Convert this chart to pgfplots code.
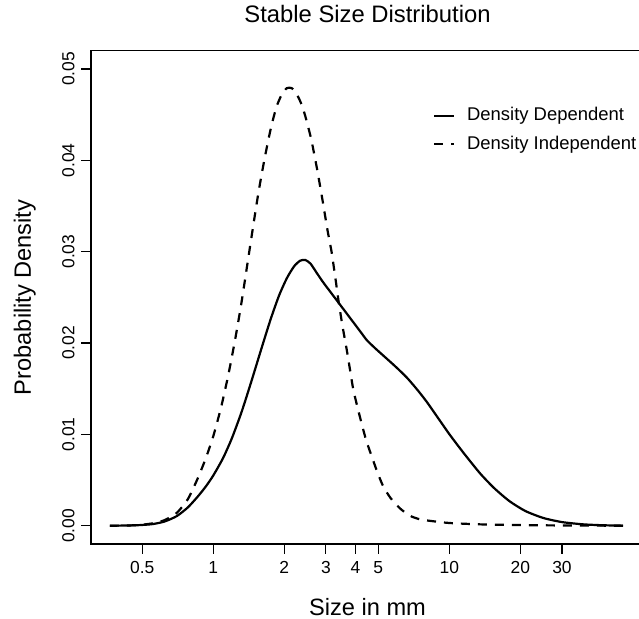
\documentclass[border=0pt]{standalone}
\usepackage{fontspec}
\setmainfont{Liberation Sans}
\usepackage{pgfplots}
\pgfplotsset{compat=1.18}

\pgfplotstableread{
x y
0.365 0.00000
0.42 0.00002
0.48 0.00006
0.55 0.00017
0.62 0.00045
0.70 0.00105
0.78 0.0020
0.86 0.0032
0.93 0.0043
1.00 0.0055
1.10 0.0074
1.20 0.0096
1.32 0.0125
1.45 0.0158
1.60 0.0194
1.75 0.0226
1.90 0.0252
2.05 0.0271
2.20 0.0284
2.33 0.0290
2.45 0.0291
2.58 0.0287
2.74 0.0277
2.90 0.02676
3.10 0.02576
3.33 0.02470
3.60 0.02354
3.90 0.02235
4.20 0.02125
4.47 0.02032
4.85 0.01943
5.25 0.01863
5.90 0.01745
6.59 0.01625
7.30 0.01492
8.02 0.01357
9.00 0.01172
10.07 0.00992
11.5 0.00796
13.5 0.00573
15.5 0.00411
18 0.00268
21 0.00161
25 0.00085
30 0.0004
37 0.00015
45 0.00005
54.5 0.00001
}\dd

\pgfplotstableread{
x y
0.365 0.00000
0.42 0.00002
0.48 0.00007
0.55 0.00025
0.62 0.0006
0.70 0.0014
0.78 0.0029
0.86 0.0052
0.93 0.0074
1.00 0.0098
1.08 0.0130
1.16 0.0166
1.24 0.0205
1.32 0.0246
1.44 0.0310
1.55 0.0363
1.65 0.0402
1.75 0.0434
1.85 0.0458
1.95 0.0472
2.05 0.0479
2.15 0.0479
2.25 0.0473
2.35 0.0463
2.45 0.0449
2.60 0.0423
2.75 0.0391
2.90 0.0357
3.05 0.0323
3.17 0.0300
3.30 0.0269
3.39 0.0247
3.52 0.0220
3.68 0.0192
3.80 0.0170
3.92 0.0149
4.08 0.0130
4.25 0.0112
4.45 0.0093
4.69 0.0076
4.95 0.0059
5.25 0.0043
5.65 0.0030
6.18 0.0019
6.80 0.0011
7.51 0.0007
8.5 0.0005
10 0.0003
13.5 0.00015
20 0.00007
30 0.00003
54.5 0.00000
}\di

\begin{document}
\begin{tikzpicture}
\begin{axis}[
  at={(91bp,75bp)}, anchor=south west,
  scale only axis, width=553bp, height=493.3bp,
  xmode=log, xmin=0.3034, xmax=66.8,
  ymin=-0.002, ymax=0.052,
  scaled y ticks=false,
  xtick={0.5,1,2,3,4,5,10,20,30},
  xticklabels={0.5,1,2,3,4,5,10,20,30},
  ytick={0,0.01,0.02,0.03,0.04,0.05},
  yticklabels={0.00,0.01,0.02,0.03,0.04,0.05},
  minor xtick={},
  xtick pos=bottom, ytick pos=left,
  tick align=outside, major tick length=10bp,
  axis line style={line width=1.2bp},
  every tick/.style={black, line width=1.2bp},
  tick label style={font=\fontsize{17.5}{20}\selectfont},
  /pgf/number format/assume math mode=true,
  yticklabel style={rotate=90, anchor=south},
  xticklabel style={anchor=north},
  xticklabel shift=4bp,
  yticklabel shift=3bp,
  title={Stable Size Distribution},
  title style={at={(axis description cs:0.5,1.046)}, anchor=base, font=\fontsize{23.9}{28}\selectfont, inner sep=0pt},
  xlabel={Size in mm},
  xlabel style={at={(axis description cs:0.5,-0.144)}, anchor=base, font=\fontsize{23.7}{28}\selectfont, inner sep=0pt},
  ylabel={Probability Density},
  ylabel style={at={(axis description cs:-0.1085,0.5)}, anchor=base, font=\fontsize{23.7}{28}\selectfont, inner sep=0pt},
  legend style={at={(rel axis cs:0.6184,0.8857)}, anchor=north west, draw=none, fill=none,
    inner sep=0pt, outer sep=0pt, row sep=11bp, column sep=12bp,
    font=\fontsize{18.5}{21}\selectfont,
    nodes={inner sep=0pt, text height=13.5bp, text depth=4bp}},
  legend cell align=left,
  legend image code/.code={\draw[#1] (0bp,0bp) -- (20bp,0bp);},
]
\addplot[black, line width=2.2bp, smooth, tension=0.4] table {\dd};
\addlegendentry{Density Dependent}
\addplot[black, line width=2.2bp, dash pattern=on 9bp off 8bp, smooth, tension=0.4] table {\di};
\addlegendentry{Density Independent}
\end{axis}
\pgfresetboundingbox
\useasboundingbox (0,0) rectangle (639bp,619bp);
\end{tikzpicture}
\end{document}
